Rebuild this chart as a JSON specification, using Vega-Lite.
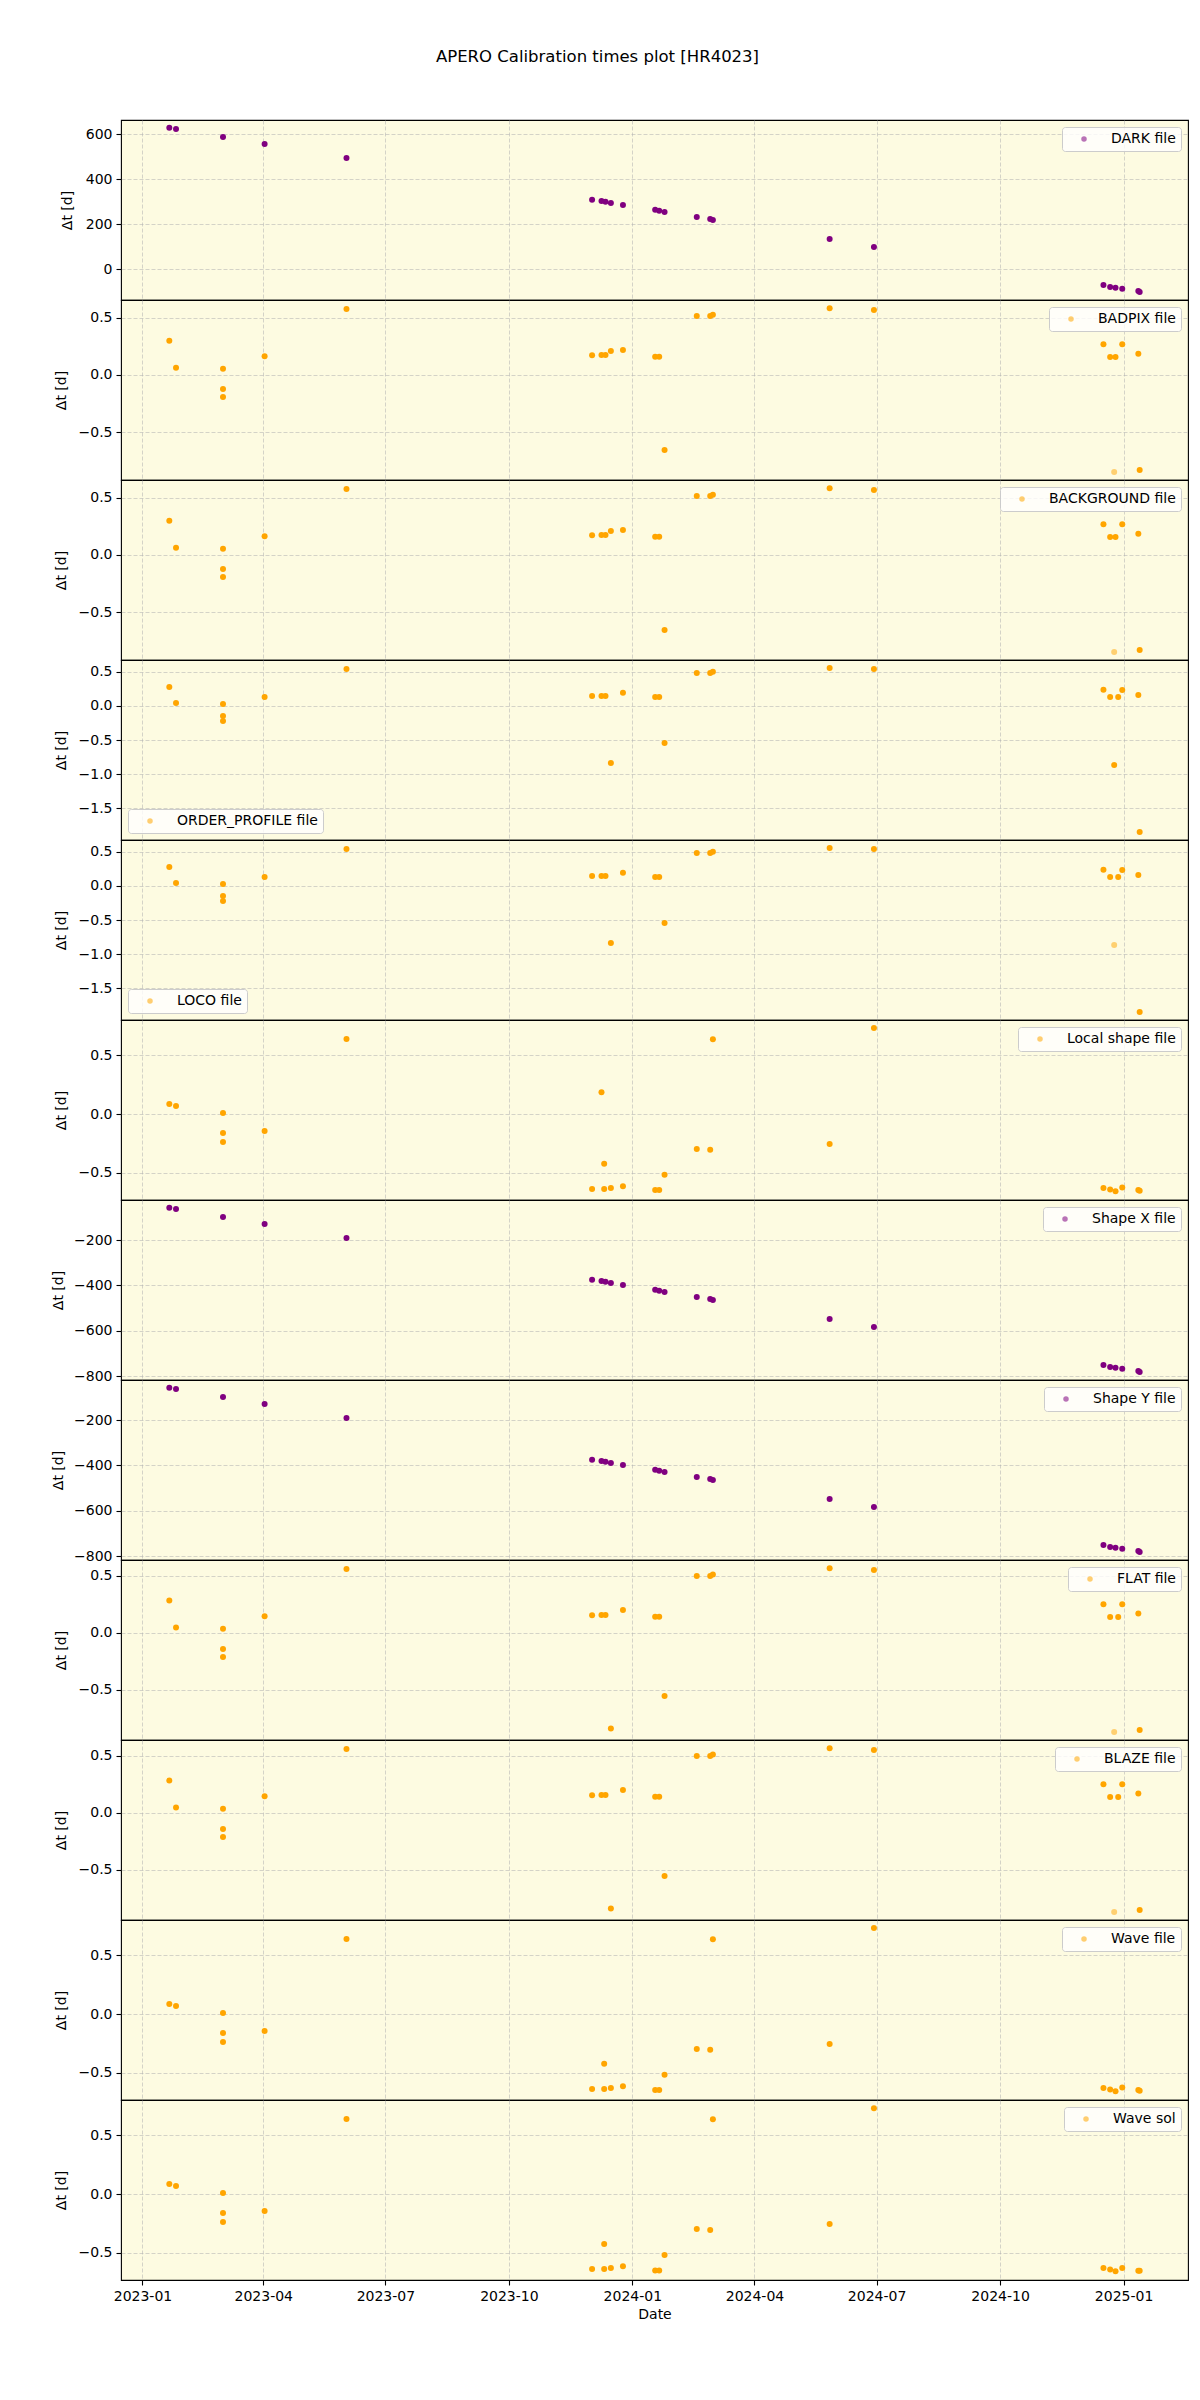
{
  "$schema": "https://vega.github.io/schema/vega-lite/v6.json",
  "padding": {"left": 50, "top": 48, "right": 8, "bottom": 8},
  "spacing": 0,
  "bounds": "flush",
  "title": {"text": "APERO Calibration times plot [HR4023]", "fontSize": 16.5, "font": "DejaVu Sans", "fontWeight": "normal", "color": "black", "anchor": "middle", "offset": 54, "dx": -22},
  "data": {"values": [
    {"file": "DARK file", "date": "2023-01-21", "dt": 629.6},
    {"file": "DARK file", "date": "2023-01-26", "dt": 623.7},
    {"file": "DARK file", "date": "2023-03-02", "dt": 588},
    {"file": "DARK file", "date": "2023-04-02", "dt": 557},
    {"file": "DARK file", "date": "2023-06-02", "dt": 494.8},
    {"file": "DARK file", "date": "2023-12-02", "dt": 309.6},
    {"file": "DARK file", "date": "2023-12-09", "dt": 303.7},
    {"file": "DARK file", "date": "2023-12-12", "dt": 300.7},
    {"file": "DARK file", "date": "2023-12-16", "dt": 294.8},
    {"file": "DARK file", "date": "2023-12-25", "dt": 285.9},
    {"file": "DARK file", "date": "2024-01-18", "dt": 265.2},
    {"file": "DARK file", "date": "2024-01-21", "dt": 260.7},
    {"file": "DARK file", "date": "2024-01-25", "dt": 254.8},
    {"file": "DARK file", "date": "2024-02-18", "dt": 232.6},
    {"file": "DARK file", "date": "2024-02-28", "dt": 223.7},
    {"file": "DARK file", "date": "2024-03-01", "dt": 219.3},
    {"file": "DARK file", "date": "2024-05-27", "dt": 134.8},
    {"file": "DARK file", "date": "2024-06-29", "dt": 99.3},
    {"file": "DARK file", "date": "2024-12-17", "dt": -69.6},
    {"file": "DARK file", "date": "2024-12-22", "dt": -78.5},
    {"file": "DARK file", "date": "2024-12-26", "dt": -81.5},
    {"file": "DARK file", "date": "2024-12-31", "dt": -85.9},
    {"file": "DARK file", "date": "2025-01-12", "dt": -96.3},
    {"file": "DARK file", "date": "2025-01-13", "dt": -100.7},

    {"file": "BADPIX file", "date": "2023-01-21", "dt": 0.299},
    {"file": "BADPIX file", "date": "2023-01-26", "dt": 0.063},
    {"file": "BADPIX file", "date": "2023-03-02", "dt": 0.054},
    {"file": "BADPIX file", "date": "2023-03-02", "dt": -0.124},
    {"file": "BADPIX file", "date": "2023-03-02", "dt": -0.194},
    {"file": "BADPIX file", "date": "2023-04-02", "dt": 0.162},
    {"file": "BADPIX file", "date": "2023-06-02", "dt": 0.576},
    {"file": "BADPIX file", "date": "2023-12-02", "dt": 0.171},
    {"file": "BADPIX file", "date": "2023-12-09", "dt": 0.173},
    {"file": "BADPIX file", "date": "2023-12-12", "dt": 0.173},
    {"file": "BADPIX file", "date": "2023-12-16", "dt": 0.208},
    {"file": "BADPIX file", "date": "2023-12-25", "dt": 0.217},
    {"file": "BADPIX file", "date": "2024-01-18", "dt": 0.159},
    {"file": "BADPIX file", "date": "2024-01-21", "dt": 0.159},
    {"file": "BADPIX file", "date": "2024-01-25", "dt": -0.657},
    {"file": "BADPIX file", "date": "2024-02-18", "dt": 0.515},
    {"file": "BADPIX file", "date": "2024-02-28", "dt": 0.515},
    {"file": "BADPIX file", "date": "2024-03-01", "dt": 0.526},
    {"file": "BADPIX file", "date": "2024-05-27", "dt": 0.582},
    {"file": "BADPIX file", "date": "2024-06-29", "dt": 0.567},
    {"file": "BADPIX file", "date": "2024-12-17", "dt": 0.267},
    {"file": "BADPIX file", "date": "2024-12-22", "dt": 0.156},
    {"file": "BADPIX file", "date": "2024-12-26", "dt": 0.156},
    {"file": "BADPIX file", "date": "2024-12-25", "dt": -0.85, "n": 1},
    {"file": "BADPIX file", "date": "2024-12-31", "dt": 0.267},
    {"file": "BADPIX file", "date": "2025-01-12", "dt": 0.185},
    {"file": "BADPIX file", "date": "2025-01-13", "dt": -0.832},

    {"file": "BACKGROUND file", "date": "2023-01-21", "dt": 0.299},
    {"file": "BACKGROUND file", "date": "2023-01-26", "dt": 0.063},
    {"file": "BACKGROUND file", "date": "2023-03-02", "dt": 0.054},
    {"file": "BACKGROUND file", "date": "2023-03-02", "dt": -0.124},
    {"file": "BACKGROUND file", "date": "2023-03-02", "dt": -0.194},
    {"file": "BACKGROUND file", "date": "2023-04-02", "dt": 0.162},
    {"file": "BACKGROUND file", "date": "2023-06-02", "dt": 0.576},
    {"file": "BACKGROUND file", "date": "2023-12-02", "dt": 0.171},
    {"file": "BACKGROUND file", "date": "2023-12-09", "dt": 0.173},
    {"file": "BACKGROUND file", "date": "2023-12-12", "dt": 0.173},
    {"file": "BACKGROUND file", "date": "2023-12-16", "dt": 0.208},
    {"file": "BACKGROUND file", "date": "2023-12-25", "dt": 0.217},
    {"file": "BACKGROUND file", "date": "2024-01-18", "dt": 0.159},
    {"file": "BACKGROUND file", "date": "2024-01-21", "dt": 0.159},
    {"file": "BACKGROUND file", "date": "2024-01-25", "dt": -0.657},
    {"file": "BACKGROUND file", "date": "2024-02-18", "dt": 0.515},
    {"file": "BACKGROUND file", "date": "2024-02-28", "dt": 0.515},
    {"file": "BACKGROUND file", "date": "2024-03-01", "dt": 0.526},
    {"file": "BACKGROUND file", "date": "2024-05-27", "dt": 0.582},
    {"file": "BACKGROUND file", "date": "2024-06-29", "dt": 0.567},
    {"file": "BACKGROUND file", "date": "2024-12-17", "dt": 0.267},
    {"file": "BACKGROUND file", "date": "2024-12-22", "dt": 0.156},
    {"file": "BACKGROUND file", "date": "2024-12-26", "dt": 0.156},
    {"file": "BACKGROUND file", "date": "2024-12-25", "dt": -0.85, "n": 1},
    {"file": "BACKGROUND file", "date": "2024-12-31", "dt": 0.267},
    {"file": "BACKGROUND file", "date": "2025-01-12", "dt": 0.185},
    {"file": "BACKGROUND file", "date": "2025-01-13", "dt": -0.832},

    {"file": "ORDER_PROFILE file", "date": "2023-01-21", "dt": 0.279},
    {"file": "ORDER_PROFILE file", "date": "2023-01-26", "dt": 0.044},
    {"file": "ORDER_PROFILE file", "date": "2023-03-02", "dt": 0.029},
    {"file": "ORDER_PROFILE file", "date": "2023-03-02", "dt": -0.147},
    {"file": "ORDER_PROFILE file", "date": "2023-03-02", "dt": -0.221},
    {"file": "ORDER_PROFILE file", "date": "2023-04-02", "dt": 0.132},
    {"file": "ORDER_PROFILE file", "date": "2023-06-02", "dt": 0.544},
    {"file": "ORDER_PROFILE file", "date": "2023-12-02", "dt": 0.147},
    {"file": "ORDER_PROFILE file", "date": "2023-12-09", "dt": 0.147},
    {"file": "ORDER_PROFILE file", "date": "2023-12-12", "dt": 0.147},
    {"file": "ORDER_PROFILE file", "date": "2023-12-16", "dt": -0.838},
    {"file": "ORDER_PROFILE file", "date": "2023-12-25", "dt": 0.196},
    {"file": "ORDER_PROFILE file", "date": "2024-01-18", "dt": 0.132},
    {"file": "ORDER_PROFILE file", "date": "2024-01-21", "dt": 0.132},
    {"file": "ORDER_PROFILE file", "date": "2024-01-25", "dt": -0.544},
    {"file": "ORDER_PROFILE file", "date": "2024-02-18", "dt": 0.485},
    {"file": "ORDER_PROFILE file", "date": "2024-02-28", "dt": 0.485},
    {"file": "ORDER_PROFILE file", "date": "2024-03-01", "dt": 0.505},
    {"file": "ORDER_PROFILE file", "date": "2024-05-27", "dt": 0.559},
    {"file": "ORDER_PROFILE file", "date": "2024-06-29", "dt": 0.544},
    {"file": "ORDER_PROFILE file", "date": "2024-12-17", "dt": 0.24},
    {"file": "ORDER_PROFILE file", "date": "2024-12-22", "dt": 0.132},
    {"file": "ORDER_PROFILE file", "date": "2024-12-28", "dt": 0.132},
    {"file": "ORDER_PROFILE file", "date": "2024-12-25", "dt": -0.868},
    {"file": "ORDER_PROFILE file", "date": "2024-12-31", "dt": 0.235},
    {"file": "ORDER_PROFILE file", "date": "2025-01-12", "dt": 0.162},
    {"file": "ORDER_PROFILE file", "date": "2025-01-13", "dt": -1.853},

    {"file": "LOCO file", "date": "2023-01-21", "dt": 0.279},
    {"file": "LOCO file", "date": "2023-01-26", "dt": 0.044},
    {"file": "LOCO file", "date": "2023-03-02", "dt": 0.029},
    {"file": "LOCO file", "date": "2023-03-02", "dt": -0.147},
    {"file": "LOCO file", "date": "2023-03-02", "dt": -0.221},
    {"file": "LOCO file", "date": "2023-04-02", "dt": 0.132},
    {"file": "LOCO file", "date": "2023-06-02", "dt": 0.544},
    {"file": "LOCO file", "date": "2023-12-02", "dt": 0.147},
    {"file": "LOCO file", "date": "2023-12-09", "dt": 0.147},
    {"file": "LOCO file", "date": "2023-12-12", "dt": 0.147},
    {"file": "LOCO file", "date": "2023-12-16", "dt": -0.838},
    {"file": "LOCO file", "date": "2023-12-25", "dt": 0.196},
    {"file": "LOCO file", "date": "2024-01-18", "dt": 0.132},
    {"file": "LOCO file", "date": "2024-01-21", "dt": 0.132},
    {"file": "LOCO file", "date": "2024-01-25", "dt": -0.544},
    {"file": "LOCO file", "date": "2024-02-18", "dt": 0.485},
    {"file": "LOCO file", "date": "2024-02-28", "dt": 0.485},
    {"file": "LOCO file", "date": "2024-03-01", "dt": 0.505},
    {"file": "LOCO file", "date": "2024-05-27", "dt": 0.559},
    {"file": "LOCO file", "date": "2024-06-29", "dt": 0.544},
    {"file": "LOCO file", "date": "2024-12-17", "dt": 0.24},
    {"file": "LOCO file", "date": "2024-12-22", "dt": 0.132},
    {"file": "LOCO file", "date": "2024-12-28", "dt": 0.132},
    {"file": "LOCO file", "date": "2024-12-25", "dt": -0.868, "n": 1},
    {"file": "LOCO file", "date": "2024-12-31", "dt": 0.235},
    {"file": "LOCO file", "date": "2025-01-12", "dt": 0.162},
    {"file": "LOCO file", "date": "2025-01-13", "dt": -1.853},

    {"file": "Local shape file", "date": "2023-01-21", "dt": 0.085},
    {"file": "Local shape file", "date": "2023-01-26", "dt": 0.068},
    {"file": "Local shape file", "date": "2023-03-02", "dt": 0.008},
    {"file": "Local shape file", "date": "2023-03-02", "dt": -0.161},
    {"file": "Local shape file", "date": "2023-03-02", "dt": -0.237},
    {"file": "Local shape file", "date": "2023-04-02", "dt": -0.144},
    {"file": "Local shape file", "date": "2023-06-02", "dt": 0.636},
    {"file": "Local shape file", "date": "2023-12-02", "dt": -0.636},
    {"file": "Local shape file", "date": "2023-12-09", "dt": 0.184},
    {"file": "Local shape file", "date": "2023-12-11", "dt": -0.421},
    {"file": "Local shape file", "date": "2023-12-11", "dt": -0.636},
    {"file": "Local shape file", "date": "2023-12-16", "dt": -0.627},
    {"file": "Local shape file", "date": "2023-12-25", "dt": -0.613},
    {"file": "Local shape file", "date": "2024-01-18", "dt": -0.644},
    {"file": "Local shape file", "date": "2024-01-21", "dt": -0.644},
    {"file": "Local shape file", "date": "2024-01-25", "dt": -0.514},
    {"file": "Local shape file", "date": "2024-02-18", "dt": -0.297},
    {"file": "Local shape file", "date": "2024-02-28", "dt": -0.302},
    {"file": "Local shape file", "date": "2024-03-01", "dt": 0.633},
    {"file": "Local shape file", "date": "2024-05-27", "dt": -0.254},
    {"file": "Local shape file", "date": "2024-06-29", "dt": 0.729},
    {"file": "Local shape file", "date": "2024-12-17", "dt": -0.627},
    {"file": "Local shape file", "date": "2024-12-22", "dt": -0.641},
    {"file": "Local shape file", "date": "2024-12-26", "dt": -0.655},
    {"file": "Local shape file", "date": "2024-12-31", "dt": -0.624},
    {"file": "Local shape file", "date": "2025-01-12", "dt": -0.644},
    {"file": "Local shape file", "date": "2025-01-13", "dt": -0.65},

    {"file": "Shape X file", "date": "2023-01-21", "dt": -57.4},
    {"file": "Shape X file", "date": "2023-01-26", "dt": -63.2},
    {"file": "Shape X file", "date": "2023-03-02", "dt": -98.5},
    {"file": "Shape X file", "date": "2023-04-02", "dt": -129.4},
    {"file": "Shape X file", "date": "2023-06-02", "dt": -191.2},
    {"file": "Shape X file", "date": "2023-12-02", "dt": -375},
    {"file": "Shape X file", "date": "2023-12-09", "dt": -380.9},
    {"file": "Shape X file", "date": "2023-12-12", "dt": -383.8},
    {"file": "Shape X file", "date": "2023-12-16", "dt": -389.7},
    {"file": "Shape X file", "date": "2023-12-25", "dt": -398.5},
    {"file": "Shape X file", "date": "2024-01-18", "dt": -419.1},
    {"file": "Shape X file", "date": "2024-01-21", "dt": -423.5},
    {"file": "Shape X file", "date": "2024-01-25", "dt": -429.4},
    {"file": "Shape X file", "date": "2024-02-18", "dt": -451.5},
    {"file": "Shape X file", "date": "2024-02-28", "dt": -460.3},
    {"file": "Shape X file", "date": "2024-03-01", "dt": -464.7},
    {"file": "Shape X file", "date": "2024-05-27", "dt": -548.5},
    {"file": "Shape X file", "date": "2024-06-29", "dt": -583.8},
    {"file": "Shape X file", "date": "2024-12-17", "dt": -751.5},
    {"file": "Shape X file", "date": "2024-12-22", "dt": -760.3},
    {"file": "Shape X file", "date": "2024-12-26", "dt": -763.2},
    {"file": "Shape X file", "date": "2024-12-31", "dt": -767.6},
    {"file": "Shape X file", "date": "2025-01-12", "dt": -777.9},
    {"file": "Shape X file", "date": "2025-01-13", "dt": -782.4},

    {"file": "Shape Y file", "date": "2023-01-21", "dt": -57.4},
    {"file": "Shape Y file", "date": "2023-01-26", "dt": -63.2},
    {"file": "Shape Y file", "date": "2023-03-02", "dt": -98.5},
    {"file": "Shape Y file", "date": "2023-04-02", "dt": -129.4},
    {"file": "Shape Y file", "date": "2023-06-02", "dt": -191.2},
    {"file": "Shape Y file", "date": "2023-12-02", "dt": -375},
    {"file": "Shape Y file", "date": "2023-12-09", "dt": -380.9},
    {"file": "Shape Y file", "date": "2023-12-12", "dt": -383.8},
    {"file": "Shape Y file", "date": "2023-12-16", "dt": -389.7},
    {"file": "Shape Y file", "date": "2023-12-25", "dt": -398.5},
    {"file": "Shape Y file", "date": "2024-01-18", "dt": -419.1},
    {"file": "Shape Y file", "date": "2024-01-21", "dt": -423.5},
    {"file": "Shape Y file", "date": "2024-01-25", "dt": -429.4},
    {"file": "Shape Y file", "date": "2024-02-18", "dt": -451.5},
    {"file": "Shape Y file", "date": "2024-02-28", "dt": -460.3},
    {"file": "Shape Y file", "date": "2024-03-01", "dt": -464.7},
    {"file": "Shape Y file", "date": "2024-05-27", "dt": -548.5},
    {"file": "Shape Y file", "date": "2024-06-29", "dt": -583.8},
    {"file": "Shape Y file", "date": "2024-12-17", "dt": -751.5},
    {"file": "Shape Y file", "date": "2024-12-22", "dt": -760.3},
    {"file": "Shape Y file", "date": "2024-12-26", "dt": -763.2},
    {"file": "Shape Y file", "date": "2024-12-31", "dt": -767.6},
    {"file": "Shape Y file", "date": "2025-01-12", "dt": -777.9},
    {"file": "Shape Y file", "date": "2025-01-13", "dt": -782.4},

    {"file": "FLAT file", "date": "2023-01-21", "dt": 0.284},
    {"file": "FLAT file", "date": "2023-01-26", "dt": 0.047},
    {"file": "FLAT file", "date": "2023-03-02", "dt": 0.038},
    {"file": "FLAT file", "date": "2023-03-02", "dt": -0.14},
    {"file": "FLAT file", "date": "2023-03-02", "dt": -0.211},
    {"file": "FLAT file", "date": "2023-04-02", "dt": 0.146},
    {"file": "FLAT file", "date": "2023-06-02", "dt": 0.561},
    {"file": "FLAT file", "date": "2023-12-02", "dt": 0.155},
    {"file": "FLAT file", "date": "2023-12-09", "dt": 0.158},
    {"file": "FLAT file", "date": "2023-12-12", "dt": 0.158},
    {"file": "FLAT file", "date": "2023-12-16", "dt": -0.839},
    {"file": "FLAT file", "date": "2023-12-25", "dt": 0.202},
    {"file": "FLAT file", "date": "2024-01-18", "dt": 0.143},
    {"file": "FLAT file", "date": "2024-01-21", "dt": 0.143},
    {"file": "FLAT file", "date": "2024-01-25", "dt": -0.553},
    {"file": "FLAT file", "date": "2024-02-18", "dt": 0.5},
    {"file": "FLAT file", "date": "2024-02-28", "dt": 0.5},
    {"file": "FLAT file", "date": "2024-03-01", "dt": 0.512},
    {"file": "FLAT file", "date": "2024-05-27", "dt": 0.567},
    {"file": "FLAT file", "date": "2024-06-29", "dt": 0.553},
    {"file": "FLAT file", "date": "2024-12-17", "dt": 0.251},
    {"file": "FLAT file", "date": "2024-12-22", "dt": 0.14},
    {"file": "FLAT file", "date": "2024-12-28", "dt": 0.14},
    {"file": "FLAT file", "date": "2024-12-25", "dt": -0.868, "n": 1},
    {"file": "FLAT file", "date": "2024-12-31", "dt": 0.251},
    {"file": "FLAT file", "date": "2025-01-12", "dt": 0.17},
    {"file": "FLAT file", "date": "2025-01-13", "dt": -0.851},

    {"file": "BLAZE file", "date": "2023-01-21", "dt": 0.284},
    {"file": "BLAZE file", "date": "2023-01-26", "dt": 0.047},
    {"file": "BLAZE file", "date": "2023-03-02", "dt": 0.038},
    {"file": "BLAZE file", "date": "2023-03-02", "dt": -0.14},
    {"file": "BLAZE file", "date": "2023-03-02", "dt": -0.211},
    {"file": "BLAZE file", "date": "2023-04-02", "dt": 0.146},
    {"file": "BLAZE file", "date": "2023-06-02", "dt": 0.561},
    {"file": "BLAZE file", "date": "2023-12-02", "dt": 0.155},
    {"file": "BLAZE file", "date": "2023-12-09", "dt": 0.158},
    {"file": "BLAZE file", "date": "2023-12-12", "dt": 0.158},
    {"file": "BLAZE file", "date": "2023-12-16", "dt": -0.839},
    {"file": "BLAZE file", "date": "2023-12-25", "dt": 0.202},
    {"file": "BLAZE file", "date": "2024-01-18", "dt": 0.143},
    {"file": "BLAZE file", "date": "2024-01-21", "dt": 0.143},
    {"file": "BLAZE file", "date": "2024-01-25", "dt": -0.553},
    {"file": "BLAZE file", "date": "2024-02-18", "dt": 0.5},
    {"file": "BLAZE file", "date": "2024-02-28", "dt": 0.5},
    {"file": "BLAZE file", "date": "2024-03-01", "dt": 0.512},
    {"file": "BLAZE file", "date": "2024-05-27", "dt": 0.567},
    {"file": "BLAZE file", "date": "2024-06-29", "dt": 0.553},
    {"file": "BLAZE file", "date": "2024-12-17", "dt": 0.251},
    {"file": "BLAZE file", "date": "2024-12-22", "dt": 0.14},
    {"file": "BLAZE file", "date": "2024-12-28", "dt": 0.14},
    {"file": "BLAZE file", "date": "2024-12-25", "dt": -0.868, "n": 1},
    {"file": "BLAZE file", "date": "2024-12-31", "dt": 0.251},
    {"file": "BLAZE file", "date": "2025-01-12", "dt": 0.17},
    {"file": "BLAZE file", "date": "2025-01-13", "dt": -0.851},

    {"file": "Wave file", "date": "2023-01-21", "dt": 0.085},
    {"file": "Wave file", "date": "2023-01-26", "dt": 0.068},
    {"file": "Wave file", "date": "2023-03-02", "dt": 0.008},
    {"file": "Wave file", "date": "2023-03-02", "dt": -0.161},
    {"file": "Wave file", "date": "2023-03-02", "dt": -0.237},
    {"file": "Wave file", "date": "2023-04-02", "dt": -0.144},
    {"file": "Wave file", "date": "2023-06-02", "dt": 0.636},
    {"file": "Wave file", "date": "2023-12-02", "dt": -0.636},
    {"file": "Wave file", "date": "2023-12-11", "dt": -0.421},
    {"file": "Wave file", "date": "2023-12-11", "dt": -0.636},
    {"file": "Wave file", "date": "2023-12-16", "dt": -0.627},
    {"file": "Wave file", "date": "2023-12-25", "dt": -0.613},
    {"file": "Wave file", "date": "2024-01-18", "dt": -0.644},
    {"file": "Wave file", "date": "2024-01-21", "dt": -0.644},
    {"file": "Wave file", "date": "2024-01-25", "dt": -0.514},
    {"file": "Wave file", "date": "2024-02-18", "dt": -0.297},
    {"file": "Wave file", "date": "2024-02-28", "dt": -0.302},
    {"file": "Wave file", "date": "2024-03-01", "dt": 0.633},
    {"file": "Wave file", "date": "2024-05-27", "dt": -0.254},
    {"file": "Wave file", "date": "2024-06-29", "dt": 0.729},
    {"file": "Wave file", "date": "2024-12-17", "dt": -0.627},
    {"file": "Wave file", "date": "2024-12-22", "dt": -0.641},
    {"file": "Wave file", "date": "2024-12-26", "dt": -0.655},
    {"file": "Wave file", "date": "2024-12-31", "dt": -0.624},
    {"file": "Wave file", "date": "2025-01-12", "dt": -0.644},
    {"file": "Wave file", "date": "2025-01-13", "dt": -0.65},

    {"file": "Wave sol", "date": "2023-01-21", "dt": 0.085},
    {"file": "Wave sol", "date": "2023-01-26", "dt": 0.068},
    {"file": "Wave sol", "date": "2023-03-02", "dt": 0.008},
    {"file": "Wave sol", "date": "2023-03-02", "dt": -0.161},
    {"file": "Wave sol", "date": "2023-03-02", "dt": -0.237},
    {"file": "Wave sol", "date": "2023-04-02", "dt": -0.144},
    {"file": "Wave sol", "date": "2023-06-02", "dt": 0.636},
    {"file": "Wave sol", "date": "2023-12-02", "dt": -0.636},
    {"file": "Wave sol", "date": "2023-12-11", "dt": -0.424},
    {"file": "Wave sol", "date": "2023-12-11", "dt": -0.636},
    {"file": "Wave sol", "date": "2023-12-16", "dt": -0.627},
    {"file": "Wave sol", "date": "2023-12-25", "dt": -0.613},
    {"file": "Wave sol", "date": "2024-01-18", "dt": -0.648},
    {"file": "Wave sol", "date": "2024-01-21", "dt": -0.648},
    {"file": "Wave sol", "date": "2024-01-25", "dt": -0.517},
    {"file": "Wave sol", "date": "2024-02-18", "dt": -0.297},
    {"file": "Wave sol", "date": "2024-02-28", "dt": -0.305},
    {"file": "Wave sol", "date": "2024-03-01", "dt": 0.633},
    {"file": "Wave sol", "date": "2024-05-27", "dt": -0.254},
    {"file": "Wave sol", "date": "2024-06-29", "dt": 0.726},
    {"file": "Wave sol", "date": "2024-12-17", "dt": -0.627},
    {"file": "Wave sol", "date": "2024-12-22", "dt": -0.641},
    {"file": "Wave sol", "date": "2024-12-26", "dt": -0.655},
    {"file": "Wave sol", "date": "2024-12-31", "dt": -0.627},
    {"file": "Wave sol", "date": "2025-01-12", "dt": -0.65},
    {"file": "Wave sol", "date": "2025-01-13", "dt": -0.65}
  ]},
  "resolve": {"scale": {"color": "independent", "y": "independent"}, "legend": {"color": "independent"}},
  "vconcat": [
    {
      "width": 1067, "height": 180,
      "transform": [{"filter": "datum.file === 'DARK file'"}],
      "mark": {"type": "point", "filled": true, "shape": "circle", "size": 36},
      "encoding": {
        "x": {"field": "date", "type": "temporal", "scale": {"domain": [{"year": 2022, "month": 12, "date": 16}, {"year": 2025, "month": 2, "date": 18}]}, "axis": {"title": null, "labels": false, "ticks": false, "values": [{"year": 2023, "month": 1, "date": 1}, {"year": 2023, "month": 4, "date": 1}, {"year": 2023, "month": 7, "date": 1}, {"year": 2023, "month": 10, "date": 1}, {"year": 2024, "month": 1, "date": 1}, {"year": 2024, "month": 4, "date": 1}, {"year": 2024, "month": 7, "date": 1}, {"year": 2024, "month": 10, "date": 1}, {"year": 2025, "month": 1, "date": 1}]}},
        "y": {"field": "dt", "type": "quantitative", "scale": {"domain": [-136, 664], "nice": false, "zero": false}, "axis": {"title": "Δt [d]", "values": [0, 200, 400, 600], "format": "d", "titleX": -54}},
        "color": {"field": "file", "type": "nominal", "scale": {"range": ["#800080"]}, "legend": {"title": null, "orient": "top-right"}},
        "opacity": {"condition": {"test": "datum.n === 1", "value": 0.5}, "value": 1}
      }
    },
    {
      "width": 1067, "height": 180,
      "transform": [{"filter": "datum.file === 'BADPIX file'"}],
      "mark": {"type": "point", "filled": true, "shape": "circle", "size": 36},
      "encoding": {
        "x": {"field": "date", "type": "temporal", "scale": {"domain": [{"year": 2022, "month": 12, "date": 16}, {"year": 2025, "month": 2, "date": 18}]}, "axis": {"title": null, "labels": false, "ticks": false, "values": [{"year": 2023, "month": 1, "date": 1}, {"year": 2023, "month": 4, "date": 1}, {"year": 2023, "month": 7, "date": 1}, {"year": 2023, "month": 10, "date": 1}, {"year": 2024, "month": 1, "date": 1}, {"year": 2024, "month": 4, "date": 1}, {"year": 2024, "month": 7, "date": 1}, {"year": 2024, "month": 10, "date": 1}, {"year": 2025, "month": 1, "date": 1}]}},
        "y": {"field": "dt", "type": "quantitative", "scale": {"domain": [-0.92, 0.655], "nice": false, "zero": false}, "axis": {"title": "Δt [d]", "values": [-0.5, 0, 0.5], "format": ".1f", "titleX": -60}},
        "color": {"field": "file", "type": "nominal", "scale": {"range": ["#ffa500"]}, "legend": {"title": null, "orient": "top-right"}},
        "opacity": {"condition": {"test": "datum.n === 1", "value": 0.5}, "value": 1}
      }
    },
    {
      "width": 1067, "height": 180,
      "transform": [{"filter": "datum.file === 'BACKGROUND file'"}],
      "mark": {"type": "point", "filled": true, "shape": "circle", "size": 36},
      "encoding": {
        "x": {"field": "date", "type": "temporal", "scale": {"domain": [{"year": 2022, "month": 12, "date": 16}, {"year": 2025, "month": 2, "date": 18}]}, "axis": {"title": null, "labels": false, "ticks": false, "values": [{"year": 2023, "month": 1, "date": 1}, {"year": 2023, "month": 4, "date": 1}, {"year": 2023, "month": 7, "date": 1}, {"year": 2023, "month": 10, "date": 1}, {"year": 2024, "month": 1, "date": 1}, {"year": 2024, "month": 4, "date": 1}, {"year": 2024, "month": 7, "date": 1}, {"year": 2024, "month": 10, "date": 1}, {"year": 2025, "month": 1, "date": 1}]}},
        "y": {"field": "dt", "type": "quantitative", "scale": {"domain": [-0.92, 0.655], "nice": false, "zero": false}, "axis": {"title": "Δt [d]", "values": [-0.5, 0, 0.5], "format": ".1f", "titleX": -60}},
        "color": {"field": "file", "type": "nominal", "scale": {"range": ["#ffa500"]}, "legend": {"title": null, "orient": "top-right"}},
        "opacity": {"condition": {"test": "datum.n === 1", "value": 0.5}, "value": 1}
      }
    },
    {
      "width": 1067, "height": 180,
      "transform": [{"filter": "datum.file === 'ORDER_PROFILE file'"}],
      "mark": {"type": "point", "filled": true, "shape": "circle", "size": 36},
      "encoding": {
        "x": {"field": "date", "type": "temporal", "scale": {"domain": [{"year": 2022, "month": 12, "date": 16}, {"year": 2025, "month": 2, "date": 18}]}, "axis": {"title": null, "labels": false, "ticks": false, "values": [{"year": 2023, "month": 1, "date": 1}, {"year": 2023, "month": 4, "date": 1}, {"year": 2023, "month": 7, "date": 1}, {"year": 2023, "month": 10, "date": 1}, {"year": 2024, "month": 1, "date": 1}, {"year": 2024, "month": 4, "date": 1}, {"year": 2024, "month": 7, "date": 1}, {"year": 2024, "month": 10, "date": 1}, {"year": 2025, "month": 1, "date": 1}]}},
        "y": {"field": "dt", "type": "quantitative", "scale": {"domain": [-1.97, 0.676], "nice": false, "zero": false}, "axis": {"title": "Δt [d]", "values": [-1.5, -1, -0.5, 0, 0.5], "format": ".1f", "titleX": -60}},
        "color": {"field": "file", "type": "nominal", "scale": {"range": ["#ffa500"]}, "legend": {"title": null, "orient": "bottom-left"}},
        "opacity": {"condition": {"test": "datum.n === 1", "value": 0.5}, "value": 1}
      }
    },
    {
      "width": 1067, "height": 180,
      "transform": [{"filter": "datum.file === 'LOCO file'"}],
      "mark": {"type": "point", "filled": true, "shape": "circle", "size": 36},
      "encoding": {
        "x": {"field": "date", "type": "temporal", "scale": {"domain": [{"year": 2022, "month": 12, "date": 16}, {"year": 2025, "month": 2, "date": 18}]}, "axis": {"title": null, "labels": false, "ticks": false, "values": [{"year": 2023, "month": 1, "date": 1}, {"year": 2023, "month": 4, "date": 1}, {"year": 2023, "month": 7, "date": 1}, {"year": 2023, "month": 10, "date": 1}, {"year": 2024, "month": 1, "date": 1}, {"year": 2024, "month": 4, "date": 1}, {"year": 2024, "month": 7, "date": 1}, {"year": 2024, "month": 10, "date": 1}, {"year": 2025, "month": 1, "date": 1}]}},
        "y": {"field": "dt", "type": "quantitative", "scale": {"domain": [-1.97, 0.676], "nice": false, "zero": false}, "axis": {"title": "Δt [d]", "values": [-1.5, -1, -0.5, 0, 0.5], "format": ".1f", "titleX": -60}},
        "color": {"field": "file", "type": "nominal", "scale": {"range": ["#ffa500"]}, "legend": {"title": null, "orient": "bottom-left"}},
        "opacity": {"condition": {"test": "datum.n === 1", "value": 0.5}, "value": 1}
      }
    },
    {
      "width": 1067, "height": 180,
      "transform": [{"filter": "datum.file === 'Local shape file'"}],
      "mark": {"type": "point", "filled": true, "shape": "circle", "size": 36},
      "encoding": {
        "x": {"field": "date", "type": "temporal", "scale": {"domain": [{"year": 2022, "month": 12, "date": 16}, {"year": 2025, "month": 2, "date": 18}]}, "axis": {"title": null, "labels": false, "ticks": false, "values": [{"year": 2023, "month": 1, "date": 1}, {"year": 2023, "month": 4, "date": 1}, {"year": 2023, "month": 7, "date": 1}, {"year": 2023, "month": 10, "date": 1}, {"year": 2024, "month": 1, "date": 1}, {"year": 2024, "month": 4, "date": 1}, {"year": 2024, "month": 7, "date": 1}, {"year": 2024, "month": 10, "date": 1}, {"year": 2025, "month": 1, "date": 1}]}},
        "y": {"field": "dt", "type": "quantitative", "scale": {"domain": [-0.729, 0.797], "nice": false, "zero": false}, "axis": {"title": "Δt [d]", "values": [-0.5, 0, 0.5], "format": ".1f", "titleX": -60}},
        "color": {"field": "file", "type": "nominal", "scale": {"range": ["#ffa500"]}, "legend": {"title": null, "orient": "top-right"}},
        "opacity": {"condition": {"test": "datum.n === 1", "value": 0.5}, "value": 1}
      }
    },
    {
      "width": 1067, "height": 180,
      "transform": [{"filter": "datum.file === 'Shape X file'"}],
      "mark": {"type": "point", "filled": true, "shape": "circle", "size": 36},
      "encoding": {
        "x": {"field": "date", "type": "temporal", "scale": {"domain": [{"year": 2022, "month": 12, "date": 16}, {"year": 2025, "month": 2, "date": 18}]}, "axis": {"title": null, "labels": false, "ticks": false, "values": [{"year": 2023, "month": 1, "date": 1}, {"year": 2023, "month": 4, "date": 1}, {"year": 2023, "month": 7, "date": 1}, {"year": 2023, "month": 10, "date": 1}, {"year": 2024, "month": 1, "date": 1}, {"year": 2024, "month": 4, "date": 1}, {"year": 2024, "month": 7, "date": 1}, {"year": 2024, "month": 10, "date": 1}, {"year": 2025, "month": 1, "date": 1}]}},
        "y": {"field": "dt", "type": "quantitative", "scale": {"domain": [-817.6, -23.5], "nice": false, "zero": false}, "axis": {"title": "Δt [d]", "values": [-800, -600, -400, -200], "format": "d", "titleX": -63}},
        "color": {"field": "file", "type": "nominal", "scale": {"range": ["#800080"]}, "legend": {"title": null, "orient": "top-right"}},
        "opacity": {"condition": {"test": "datum.n === 1", "value": 0.5}, "value": 1}
      }
    },
    {
      "width": 1067, "height": 180,
      "transform": [{"filter": "datum.file === 'Shape Y file'"}],
      "mark": {"type": "point", "filled": true, "shape": "circle", "size": 36},
      "encoding": {
        "x": {"field": "date", "type": "temporal", "scale": {"domain": [{"year": 2022, "month": 12, "date": 16}, {"year": 2025, "month": 2, "date": 18}]}, "axis": {"title": null, "labels": false, "ticks": false, "values": [{"year": 2023, "month": 1, "date": 1}, {"year": 2023, "month": 4, "date": 1}, {"year": 2023, "month": 7, "date": 1}, {"year": 2023, "month": 10, "date": 1}, {"year": 2024, "month": 1, "date": 1}, {"year": 2024, "month": 4, "date": 1}, {"year": 2024, "month": 7, "date": 1}, {"year": 2024, "month": 10, "date": 1}, {"year": 2025, "month": 1, "date": 1}]}},
        "y": {"field": "dt", "type": "quantitative", "scale": {"domain": [-817.6, -23.5], "nice": false, "zero": false}, "axis": {"title": "Δt [d]", "values": [-800, -600, -400, -200], "format": "d", "titleX": -63}},
        "color": {"field": "file", "type": "nominal", "scale": {"range": ["#800080"]}, "legend": {"title": null, "orient": "top-right"}},
        "opacity": {"condition": {"test": "datum.n === 1", "value": 0.5}, "value": 1}
      }
    },
    {
      "width": 1067, "height": 180,
      "transform": [{"filter": "datum.file === 'FLAT file'"}],
      "mark": {"type": "point", "filled": true, "shape": "circle", "size": 36},
      "encoding": {
        "x": {"field": "date", "type": "temporal", "scale": {"domain": [{"year": 2022, "month": 12, "date": 16}, {"year": 2025, "month": 2, "date": 18}]}, "axis": {"title": null, "labels": false, "ticks": false, "values": [{"year": 2023, "month": 1, "date": 1}, {"year": 2023, "month": 4, "date": 1}, {"year": 2023, "month": 7, "date": 1}, {"year": 2023, "month": 10, "date": 1}, {"year": 2024, "month": 1, "date": 1}, {"year": 2024, "month": 4, "date": 1}, {"year": 2024, "month": 7, "date": 1}, {"year": 2024, "month": 10, "date": 1}, {"year": 2025, "month": 1, "date": 1}]}},
        "y": {"field": "dt", "type": "quantitative", "scale": {"domain": [-0.939, 0.64], "nice": false, "zero": false}, "axis": {"title": "Δt [d]", "values": [-0.5, 0, 0.5], "format": ".1f", "titleX": -60}},
        "color": {"field": "file", "type": "nominal", "scale": {"range": ["#ffa500"]}, "legend": {"title": null, "orient": "top-right"}},
        "opacity": {"condition": {"test": "datum.n === 1", "value": 0.5}, "value": 1}
      }
    },
    {
      "width": 1067, "height": 180,
      "transform": [{"filter": "datum.file === 'BLAZE file'"}],
      "mark": {"type": "point", "filled": true, "shape": "circle", "size": 36},
      "encoding": {
        "x": {"field": "date", "type": "temporal", "scale": {"domain": [{"year": 2022, "month": 12, "date": 16}, {"year": 2025, "month": 2, "date": 18}]}, "axis": {"title": null, "labels": false, "ticks": false, "values": [{"year": 2023, "month": 1, "date": 1}, {"year": 2023, "month": 4, "date": 1}, {"year": 2023, "month": 7, "date": 1}, {"year": 2023, "month": 10, "date": 1}, {"year": 2024, "month": 1, "date": 1}, {"year": 2024, "month": 4, "date": 1}, {"year": 2024, "month": 7, "date": 1}, {"year": 2024, "month": 10, "date": 1}, {"year": 2025, "month": 1, "date": 1}]}},
        "y": {"field": "dt", "type": "quantitative", "scale": {"domain": [-0.939, 0.64], "nice": false, "zero": false}, "axis": {"title": "Δt [d]", "values": [-0.5, 0, 0.5], "format": ".1f", "titleX": -60}},
        "color": {"field": "file", "type": "nominal", "scale": {"range": ["#ffa500"]}, "legend": {"title": null, "orient": "top-right"}},
        "opacity": {"condition": {"test": "datum.n === 1", "value": 0.5}, "value": 1}
      }
    },
    {
      "width": 1067, "height": 180,
      "transform": [{"filter": "datum.file === 'Wave file'"}],
      "mark": {"type": "point", "filled": true, "shape": "circle", "size": 36},
      "encoding": {
        "x": {"field": "date", "type": "temporal", "scale": {"domain": [{"year": 2022, "month": 12, "date": 16}, {"year": 2025, "month": 2, "date": 18}]}, "axis": {"title": null, "labels": false, "ticks": false, "values": [{"year": 2023, "month": 1, "date": 1}, {"year": 2023, "month": 4, "date": 1}, {"year": 2023, "month": 7, "date": 1}, {"year": 2023, "month": 10, "date": 1}, {"year": 2024, "month": 1, "date": 1}, {"year": 2024, "month": 4, "date": 1}, {"year": 2024, "month": 7, "date": 1}, {"year": 2024, "month": 10, "date": 1}, {"year": 2025, "month": 1, "date": 1}]}},
        "y": {"field": "dt", "type": "quantitative", "scale": {"domain": [-0.729, 0.797], "nice": false, "zero": false}, "axis": {"title": "Δt [d]", "values": [-0.5, 0, 0.5], "format": ".1f", "titleX": -60}},
        "color": {"field": "file", "type": "nominal", "scale": {"range": ["#ffa500"]}, "legend": {"title": null, "orient": "top-right"}},
        "opacity": {"condition": {"test": "datum.n === 1", "value": 0.5}, "value": 1}
      }
    },
    {
      "width": 1067, "height": 180,
      "transform": [{"filter": "datum.file === 'Wave sol'"}],
      "mark": {"type": "point", "filled": true, "shape": "circle", "size": 36},
      "encoding": {
        "x": {"field": "date", "type": "temporal", "scale": {"domain": [{"year": 2022, "month": 12, "date": 16}, {"year": 2025, "month": 2, "date": 18}]}, "axis": {"title": "Date", "labels": true, "ticks": true, "format": "%Y-%m", "values": [{"year": 2023, "month": 1, "date": 1}, {"year": 2023, "month": 4, "date": 1}, {"year": 2023, "month": 7, "date": 1}, {"year": 2023, "month": 10, "date": 1}, {"year": 2024, "month": 1, "date": 1}, {"year": 2024, "month": 4, "date": 1}, {"year": 2024, "month": 7, "date": 1}, {"year": 2024, "month": 10, "date": 1}, {"year": 2025, "month": 1, "date": 1}]}},
        "y": {"field": "dt", "type": "quantitative", "scale": {"domain": [-0.729, 0.797], "nice": false, "zero": false}, "axis": {"title": "Δt [d]", "values": [-0.5, 0, 0.5], "format": ".1f", "titleX": -60}},
        "color": {"field": "file", "type": "nominal", "scale": {"range": ["#ffa500"]}, "legend": {"title": null, "orient": "top-right"}},
        "opacity": {"condition": {"test": "datum.n === 1", "value": 0.5}, "value": 1}
      }
    }
  ],
  "config": {
    "font": "DejaVu Sans",
    "view": {"fill": "#fdfbe1", "stroke": "#000000", "strokeWidth": 1.1},
    "axis": {
      "domain": false,
      "grid": true,
      "gridColor": "#b0b0b0",
      "gridOpacity": 0.6,
      "gridDash": [4, 2],
      "gridWidth": 0.9,
      "tickColor": "#000000",
      "tickSize": 5,
      "tickWidth": 1.1,
      "labelFont": "DejaVu Sans",
      "labelFontSize": 14,
      "labelColor": "#000000",
      "labelPadding": 4,
      "titleFont": "DejaVu Sans",
      "titleFontSize": 14,
      "titleFontWeight": "normal",
      "titleColor": "#000000"
    },
    "axisY": {"titleY": 90, "titleAngle": 270, "titleAlign": "center", "titleBaseline": "middle", "labelBaseline": "middle"},
    "axisX": {"titlePadding": 4, "labelFlush": false, "labelOverlap": false},
    "legend": {
      "offset": 7,
      "padding": 5,
      "fillColor": "rgba(255,255,255,0.8)",
      "strokeColor": "#cccccc",
      "cornerRadius": 3,
      "labelFont": "DejaVu Sans",
      "labelFontSize": 14,
      "labelColor": "#000000",
      "symbolType": "circle",
      "symbolSize": 30,
      "symbolOpacity": 0.55,
      "symbolStrokeWidth": 0,
      "symbolOffset": 10,
      "labelOffset": 20
    }
  }
}
